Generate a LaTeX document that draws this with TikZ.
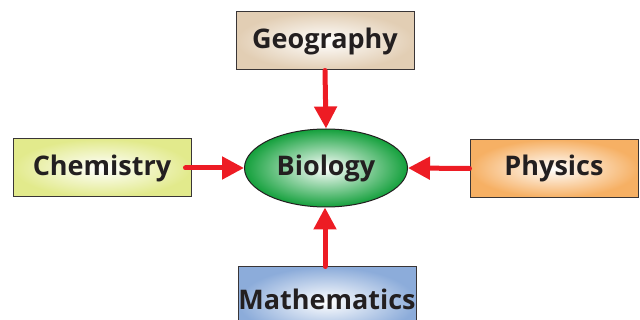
\documentclass[tikz,border=0pt]{standalone}
\usepackage{fontspec}
\setmainfont{Open Sans}
\usetikzlibrary{arrows.meta,shapes.geometric}
\definecolor{geo}{RGB}{226,206,180}
\definecolor{chem}{RGB}{226,234,140}
\definecolor{phys}{RGB}{246,176,100}
\definecolor{math}{RGB}{140,172,218}
\definecolor{bio}{RGB}{20,160,60}
\definecolor{arr}{RGB}{237,28,36}
\definecolor{txt}{RGB}{35,31,32}
\tikzset{
  subj/.style={draw=txt!90, line width=1pt, minimum width=178pt, minimum height=58pt, inner sep=0pt,
    font=\bfseries\fontsize{27}{30}\selectfont, text=txt},
  link/.style={draw=arr, line width=5pt, line cap=round, -{Triangle[length=22pt,width=22pt]}}
}
\begin{document}
\begin{tikzpicture}[x=1pt,y=-1pt]
\useasboundingbox (0,0) rectangle (640,320);
\clip (0,0) rectangle (640,320);
\node[subj, inner color=white, outer color=geo] (geo) at (325,41) {Geography};
\node[subj, inner color=white, outer color=chem] (chem) at (102,168) {Chemistry};
\node[subj, minimum width=168pt, inner color=white, outer color=phys] (phys) at (554,168.5) {Physics};
\node[subj, minimum height=70pt, inner color=white, outer color=math] (math) at (327,302) {\raisebox{5pt}{Mathematics}};
\node[ellipse, draw=txt, line width=1pt, minimum width=163pt, minimum height=78pt, inner sep=0pt,
  inner color=white, outer color=bio, font=\bfseries\fontsize{27}{30}\selectfont, text=txt] (bio) at (326,168) {Biology};
\draw[link] (geo.south) -- (bio.north);
\draw[link] ([xshift=-6pt]chem.east) -- (bio.west);
\draw[link] (phys.west) -- (bio.east);
\draw[link] ([xshift=-2pt]math.north) -- ([xshift=-1pt]bio.south);
\end{tikzpicture}
\end{document}
